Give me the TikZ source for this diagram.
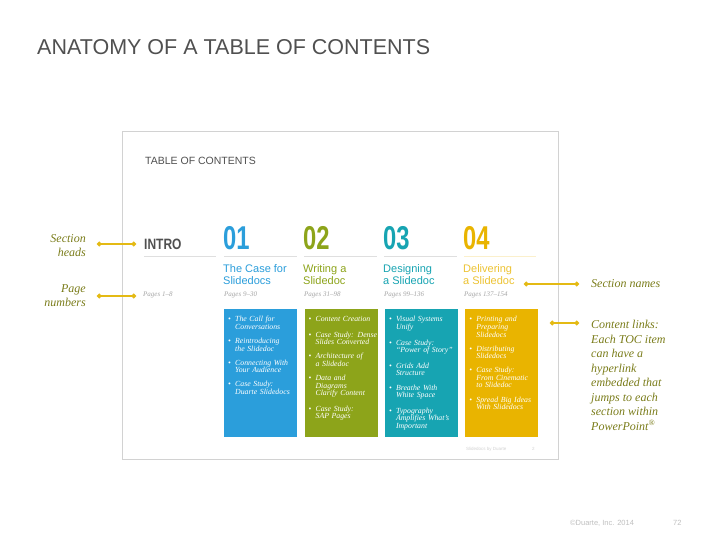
\documentclass[tikz,border=0pt]{standalone}
\usepackage{fontspec}
\setmainfont{Liberation Serif}
\setsansfont{Liberation Sans}
\usepackage{graphicx}
\usetikzlibrary{arrows.meta, positioning}
\definecolor{tocblue}{RGB}{43,158,219}
\definecolor{tocgreen}{RGB}{141,164,26}
\definecolor{tocteal}{RGB}{23,164,178}
\definecolor{tocyellow}{RGB}{233,180,0}
\definecolor{linkgold}{RGB}{228,186,20}
\definecolor{noteolive}{RGB}{122,124,26}
\definecolor{inkgray}{RGB}{80,80,80}
\newcommand{\tocitem}[1]{\par\noindent\makebox[7pt][l]{\textbullet}\parbox[t]{64pt}{\raggedright #1}\par\vspace{7.6pt}}
\newcommand{\bignum}[1]{\scalebox{0.72}[1]{\fontsize{33}{33}\selectfont\sffamily\bfseries #1}}

\begin{document}
\begin{tikzpicture}[x=1pt, y=-1pt,
    node distance=7pt,
    card/.style={rectangle, anchor=north west, minimum width=73pt, minimum height=128pt, inner sep=0pt},
    cardtext/.style={anchor=north west, text width=71pt, inner xsep=4pt, inner ysep=5pt, align=left, text=white, font=\fontsize{7.8}{7.6}\selectfont\itshape},
    secname/.style={anchor=north west, inner sep=0pt, align=left, font=\sffamily\fontsize{11}{12.5}\selectfont},
    pagenum/.style={anchor=base west, inner sep=0pt, text=gray!70, font=\fontsize{7}{8}\selectfont\itshape},
    secnum/.style={anchor=base west, inner sep=0pt},
    note/.style={inner sep=0pt, text=noteolive, font=\fontsize{12}{14.5}\selectfont\itshape},
    link/.style={draw=linkgold, line width=1.3pt, {Circle[length=4.5pt]}-{Circle[length=4.5pt]}},
    rule/.style={draw=gray!25, line width=0.8pt}
]
\useasboundingbox (0,0) rectangle (720,540);

% title
\node[anchor=base west, inner sep=0pt, text=inkgray, font=\sffamily\fontsize{21.5}{24}\selectfont] (title) at (37,55) {ANATOMY OF A TABLE OF CONTENTS};

% the slide
\draw[draw=gray!35, fill=white, line width=0.8pt] (122,131) rectangle (558,459);
\node[anchor=base west, inner sep=0pt, text=inkgray, font=\sffamily\fontsize{10.5}{12}\selectfont] (tochead) at (145,165) {TABLE OF CONTENTS};

% section heads
\node[secnum, text=inkgray] (intro) at (144,249) {\scalebox{0.8}[1]{\fontsize{15}{15}\selectfont\sffamily\bfseries INTRO}};
\node[secnum, text=tocblue] (num1) at (223,249) {\bignum{01}};
\node[secnum, text=tocgreen] (num2) at (303,249) {\bignum{02}};
\node[secnum, text=tocteal] (num3) at (383,249) {\bignum{03}};
\node[secnum, text=tocyellow] (num4) at (463,249) {\bignum{04}};
\draw[rule] (144,256) -- (216,256);
\draw[rule] (224,256) -- (297,256);
\draw[rule] (304,256) -- (377,256);
\draw[rule] (384,256) -- (457,256);
\draw[rule, draw=tocyellow!20] (464,256) -- (536,256);

% section names and pages
\node[secname, text=tocblue] (name1) at (223,264) {The Case for\\Slidedocs};
\node[secname, text=tocgreen] (name2) at (303,264) {Writing a\\Slidedoc};
\node[secname, text=tocteal] (name3) at (383,264) {Designing\\a Slidedoc};
\node[secname, text=tocyellow!80] (name4) at (463,264) {Delivering\\a Slidedoc};
\node[pagenum] (pg0) at (143,296) {Pages 1--8};
\node[pagenum] (pg1) at (224,296) {Pages 9--30};
\node[pagenum] (pg2) at (304,296) {Pages 31--98};
\node[pagenum] (pg3) at (384,296) {Pages 99--136};
\node[pagenum] (pg4) at (464,296) {Pages 137--154};

% cards
\node[card, fill=tocblue] (card1) at (224,309) {};
\node[card, fill=tocgreen, right=7pt of card1] (card2) {};
\node[card, fill=tocteal, right=7pt of card2] (card3) {};
\node[card, fill=tocyellow, right=7pt of card3] (card4) {};

\node[cardtext] (list1) at (card1.north west) {%
  \tocitem{The Call for\\Conversations}
  \tocitem{Reintroducing\\the Slidedoc}
  \tocitem{Connecting With\\Your Audience}
  \tocitem{Case Study:\\Duarte Slidedocs}};
\node[cardtext] (list2) at (card2.north west) {%
  \tocitem{Content Creation}
  \tocitem{Case Study: Dense\\Slides Converted}
  \tocitem{Architecture of\\a Slidedoc}
  \tocitem{Data and\\Diagrams\\Clarify Content}
  \tocitem{Case Study:\\SAP Pages}};
\node[cardtext] (list3) at (card3.north west) {%
  \tocitem{Visual Systems\\Unify}
  \tocitem{Case Study:\\``Power of Story''}
  \tocitem{Grids Add\\Structure}
  \tocitem{Breathe With\\White Space}
  \tocitem{Typography\\Amplifies What's\\Important}};
\node[cardtext] (list4) at (card4.north west) {%
  \tocitem{Printing and\\Preparing\\Slidedocs}
  \tocitem{Distributing\\Slidedocs}
  \tocitem{Case Study:\\From Cinematic\\to Slidedoc}
  \tocitem{Spread Big Ideas\\With Slidedocs}};

\node[anchor=base west, inner sep=0pt, text=gray!35, font=\sffamily\fontsize{4.5}{5}\selectfont] (slidefoot) at (466,450) {Slidedocs by Duarte};
\node[anchor=base west, inner sep=0pt, text=gray!35, font=\sffamily\fontsize{4.5}{5}\selectfont] (slidepage) at (532,450) {2};

% notes
\node[note, anchor=north east, align=right] (noteheads) at (86,234) {Section\\heads};
\node[note, anchor=north east, align=right] (notepages) at (86,284) {Page\\numbers};
\node[note, anchor=base west] (notenames) at (591,287) {Section names};
\node[note, anchor=north west, align=left] (notelinks) at (591,320) {Content links:\\Each TOC item\\can have a\\hyperlink\\embedded that\\jumps to each\\section within\\PowerPoint\textsuperscript{\textregistered}};

\coordinate (headsA) at (97,244);
\coordinate (headsB) at (136,244);
\coordinate (pagesA) at (97,296);
\coordinate (pagesB) at (136,296);
\coordinate (namesA) at (524,284);
\coordinate (namesB) at (579,284);
\coordinate (linksA) at (550,323);
\coordinate (linksB) at (579,323);
\draw[link] (headsA) -- (headsB);
\draw[link] (pagesA) -- (pagesB);
\draw[link] (namesA) -- (namesB);
\draw[link] (linksA) -- (linksB);

% footer
\node[anchor=base west, inner sep=0pt, text=gray!50, font=\sffamily\fontsize{7.5}{8}\selectfont] (copy) at (570,525) {\textcopyright Duarte, Inc. 2014};
\node[anchor=base west, inner sep=0pt, text=gray!50, font=\sffamily\fontsize{7.5}{8}\selectfont] (pageno) at (673,525) {72};
\end{tikzpicture}
\end{document}
